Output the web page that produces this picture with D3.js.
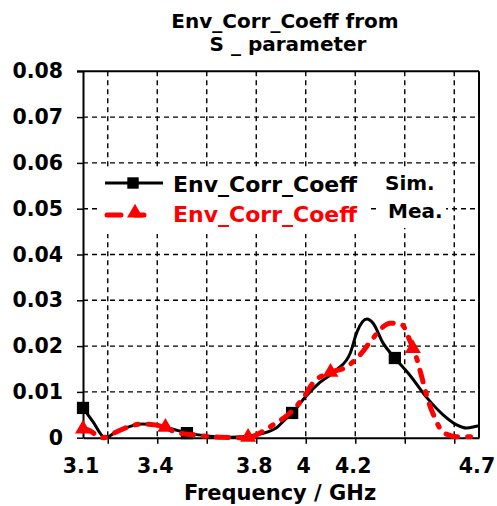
<!DOCTYPE html>
<html>
<head>
<meta charset="utf-8">
<script src="https://cdn.jsdelivr.net/npm/d3@7"></script>
<style>
  html, body { margin: 0; padding: 0; background: #fff; }
  text { font-family: "DejaVu Sans", Verdana, sans-serif; font-weight: bold; }
</style>
</head>
<body>
<svg id="chart" width="497" height="506"></svg>
<script>
// ---- data ----
const titleLines = ["Env_Corr_Coeff from", "S _ parameter"];
const xTitle = "Frequency / GHz";
const xTickLabels = [3.1, 3.4, 3.8, 4.0, 4.2, 4.7];
const xGridTicks = [3.2, 3.4, 3.6, 3.8, 4.0, 4.2, 4.4, 4.6];
const yTicks = [0, 0.01, 0.02, 0.03, 0.04, 0.05, 0.06, 0.07, 0.08];

const simFreq = [3.1, 3.14, 3.189, 3.23, 3.27, 3.34, 3.39, 3.46, 3.525, 3.6, 3.7, 3.795, 3.877, 3.915, 3.945, 4.0, 4.056, 4.125, 4.18, 4.207, 4.247, 4.272, 4.312, 4.36, 4.42, 4.49, 4.555, 4.61, 4.65, 4.69, 4.7];
const simVal  = [0.0065, 0.0035, 0.0, 0.0011, 0.0021, 0.003, 0.0028, 0.0019, 0.001, 0.0004, 0.0001, 0.0006, 0.002, 0.0039, 0.0054, 0.009, 0.012, 0.0148, 0.0185, 0.0231, 0.0259, 0.025, 0.0207, 0.0174, 0.0137, 0.0087, 0.005, 0.0028, 0.0021, 0.0025, 0.0026];
const simMarkerFreq = [3.1, 3.52, 3.945, 4.36];
const simMarkerVal  = [0.0065, 0.001, 0.0054, 0.0174];

const meaFreq = [3.1, 3.12, 3.18, 3.237, 3.28, 3.34, 3.39, 3.43, 3.47, 3.55, 3.66, 3.77, 3.82, 3.868, 3.936, 3.99, 4.03, 4.09, 4.166, 4.218, 4.266, 4.312, 4.34, 4.389, 4.42, 4.45, 4.47, 4.494, 4.52, 4.555, 4.61, 4.69, 4.7];
const meaVal  = [0.002, 0.0017, 0.0, 0.0013, 0.0023, 0.003, 0.0028, 0.0023, 0.0013, 0.0006, 0.0001, 0.0, 0.0012, 0.0028, 0.0054, 0.0087, 0.012, 0.0141, 0.0155, 0.018, 0.0213, 0.0242, 0.025, 0.0246, 0.0213, 0.017, 0.013, 0.0082, 0.0045, 0.0012, 0.0002, 0.0002, 0.0002];
const meaMarkerFreq = [3.1, 3.433, 3.767, 4.1, 4.433];
const meaMarkerVal  = [0.0019, 0.0023, 0.0001, 0.0143, 0.0195];

const legendNames = ["Env_Corr_Coeff", "Env_Corr_Coeff"];
const legendNotes = ["Sim.", "Mea."];

// ---- layout ----
const svg = d3.select("#chart");
const L = 83, R = 479, T = 71.3, B = 437.7;
const x = d3.scaleLinear().domain([3.1, 4.7]).range([L, R]);
const y = d3.scaleLinear().domain([0, 0.08]).range([B, T]);

// grid
const grid = svg.append("g").attr("stroke", "#000").attr("stroke-width", 1.4).attr("stroke-dasharray", "5,4");
grid.selectAll("line.h").data(yTicks.filter(d => d > 0 && d < 0.08)).join("line")
  .attr("x1", L).attr("x2", R).attr("y1", d => y(d)).attr("y2", d => y(d));
grid.selectAll("line.v").data(xGridTicks).join("line")
  .attr("x1", d => x(d)).attr("x2", d => x(d)).attr("y1", T).attr("y2", B);

// frame / axes
const yAxis = d3.axisLeft(y).tickValues(yTicks).tickSize(6).tickSizeOuter(0)
  .tickFormat(d => d === 0 ? "0" : d3.format(".2f")(d));
const gy = svg.append("g").attr("transform", `translate(${L},0)`).call(yAxis);
gy.select(".domain").attr("stroke-width", 2);
gy.selectAll(".tick line").attr("stroke-width", 1.5);
gy.selectAll(".tick text").attr("font-size", 20.5).attr("fill", "#000").attr("x", -20)
  .attr("font-family", "DejaVu Sans").attr("font-weight", "bold");

const xAxis = d3.axisBottom(x).tickValues(xGridTicks).tickSize(6).tickSizeOuter(0).tickFormat("");
const gx = svg.append("g").attr("transform", `translate(0,${B})`).call(xAxis);
gx.select(".domain").attr("stroke-width", 2);
gx.selectAll(".tick line").attr("stroke-width", 1.5);

svg.append("g").selectAll("text").data(xTickLabels).join("text")
  .attr("x", d => x(d) - 2).attr("y", 473).attr("text-anchor", "middle")
  .attr("font-size", 20.5).text(d => d3.format("")(d));

svg.append("line").attr("x1", L - 6).attr("x2", R).attr("y1", T).attr("y2", T).attr("stroke", "#000").attr("stroke-width", 2);
svg.append("line").attr("x1", R).attr("x2", R).attr("y1", T).attr("y2", B).attr("stroke", "#000").attr("stroke-width", 2);

// titles
svg.append("text").attr("x", 285).attr("y", 28).attr("text-anchor", "middle").attr("font-size", 20).text(titleLines[0]);
svg.append("text").attr("x", 288).attr("y", 51).attr("text-anchor", "middle").attr("font-size", 20).text(titleLines[1]);
svg.append("text").attr("x", 280).attr("y", 500).attr("text-anchor", "middle").attr("font-size", 21).text(xTitle);

// series
const line = d3.line().x(d => x(d[0])).y(d => y(d[1])).curve(d3.curveMonotoneX);
const simPts = simFreq.map((f, i) => [f, simVal[i]]);
const meaPts = meaFreq.map((f, i) => [f, meaVal[i]]);
const RED = "#ff0000";
const DASH = "12,10,3,10";

svg.append("path").datum(simPts).attr("d", line).attr("fill", "none").attr("stroke", "#000").attr("stroke-width", 3);
svg.append("g").selectAll("path").data(simMarkerFreq.map((f, i) => [f, simMarkerVal[i]])).join("path")
  .attr("d", d3.symbol(d3.symbolSquare, 150))
  .attr("transform", d => `translate(${x(d[0])},${y(d[1])})`).attr("fill", "#000");

svg.append("path").datum(meaPts).attr("d", line).attr("fill", "none").attr("stroke", RED)
  .attr("stroke-width", 5).attr("stroke-dasharray", DASH).attr("stroke-linecap", "round");
svg.append("g").selectAll("path").data(meaMarkerFreq.map((f, i) => [f, meaMarkerVal[i]])).join("path")
  .attr("d", d3.symbol(d3.symbolTriangle, 110))
  .attr("transform", d => `translate(${x(d[0])},${y(d[1])})`).attr("fill", RED);

// legend
const lg = svg.append("g");
lg.append("rect").attr("x", 97).attr("y", 167).attr("width", 271).attr("height", 67).attr("fill", "#fff");
lg.append("rect").attr("x", 379).attr("y", 170).attr("width", 67).attr("height", 58).attr("fill", "#fff");
lg.append("line").attr("x1", 105).attr("x2", 163).attr("y1", 183).attr("y2", 183).attr("stroke", "#000").attr("stroke-width", 3);
lg.append("path").attr("d", d3.symbol(d3.symbolSquare, 130)).attr("transform", "translate(133,183)").attr("fill", "#000");
lg.append("line").attr("x1", 107).attr("x2", 163).attr("y1", 215).attr("y2", 215).attr("stroke", RED)
  .attr("stroke-width", 5).attr("stroke-linecap", "round").attr("stroke-dasharray", "14,14,9,100");
lg.append("path").attr("d", d3.symbol(d3.symbolTriangle, 110)).attr("transform", "translate(135,213)").attr("fill", RED);
lg.selectAll("text.n").data(legendNames).join("text").attr("class", "n")
  .attr("x", 173).attr("y", (d, i) => 192 + i * 30).attr("font-size", 22)
  .attr("fill", (d, i) => i === 0 ? "#000" : RED).text(d => d);
lg.selectAll("text.s").data(legendNotes).join("text").attr("class", "s")
  .attr("x", (d, i) => 385 + i * 3).attr("y", (d, i) => 190 + i * 28).attr("font-size", 20)
  .attr("fill", "#000").text(d => d);
</script>
</body>
</html>
